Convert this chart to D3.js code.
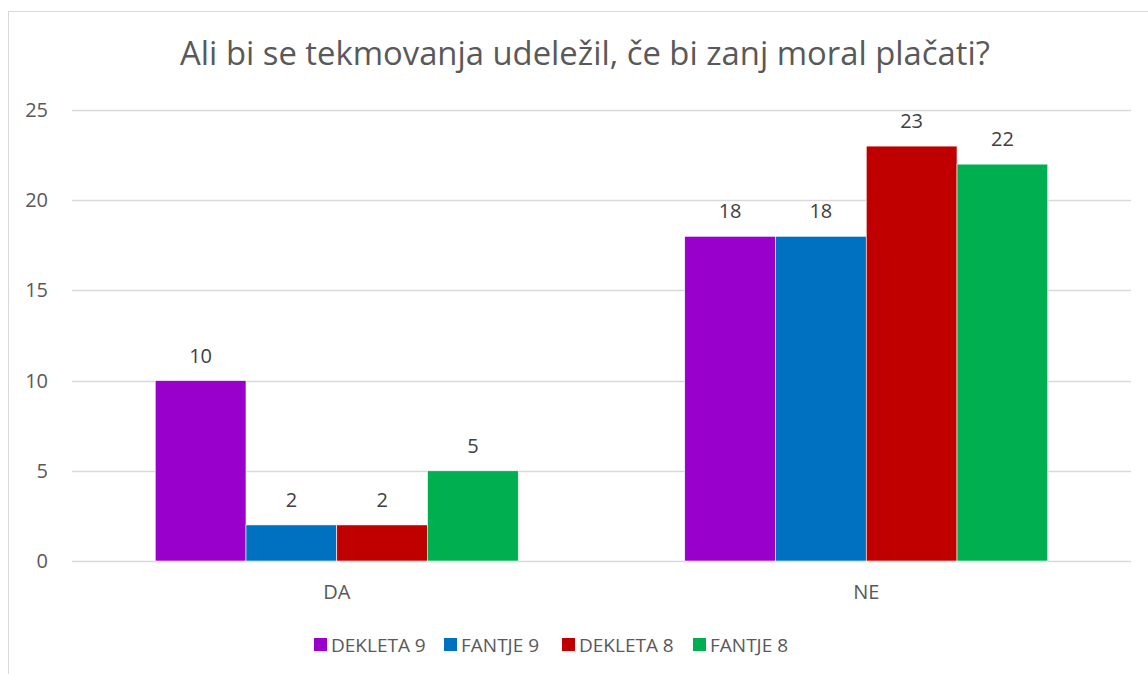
<!DOCTYPE html>
<html>
<head>
<meta charset="utf-8">
<script src="https://cdn.jsdelivr.net/npm/d3@7"></script>
<style>
  body { margin: 0; background: #fff; }
  svg text { font-family: "Open Sans", "Liberation Sans", sans-serif; }
</style>
</head>
<body>
<svg id="chart" width="1148" height="674"></svg>
<script>
// data
const categories = ["DA", "NE"];
const seriesNames = ["DEKLETA 9", "FANTJE 9", "DEKLETA 8", "FANTJE 8"];
const seriesColors = ["#9900CC", "#0070C0", "#C00000", "#00B050"];
const dekleta9 = [10, 18];
const fantje9 = [2, 18];
const dekleta8 = [2, 23];
const fantje8 = [5, 22];
const yTicks = [0, 5, 10, 15, 20, 25];
const title = "Ali bi se tekmovanja udeležil, če bi zanj moral plačati?";

const values = [dekleta9, fantje9, dekleta8, fantje8];

const svg = d3.select("#chart");
const W = 1148, H = 674;

// chart border (left + top visible)
svg.append("line").attr("x1", 8.5).attr("x2", 8.5).attr("y1", 11).attr("y2", H)
  .attr("stroke", "#d9d9d9");
svg.append("line").attr("x1", 8).attr("x2", W).attr("y1", 11.5).attr("y2", 11.5)
  .attr("stroke", "#d9d9d9");

const plot = { left: 72, right: 1131, top: 110, bottom: 561 };

const x0 = d3.scaleBand().domain(categories).range([plot.left, plot.right]).paddingInner(0).paddingOuter(0);
const x1 = d3.scaleBand().domain(seriesNames)
  .range([0, x0.bandwidth()]).paddingOuter(0.917).paddingInner(0);
const y = d3.scaleLinear().domain([0, 25]).range([plot.bottom, plot.top]);

// gridlines
svg.append("g").selectAll("line").data(yTicks).join("line")
  .attr("x1", plot.left).attr("x2", plot.right)
  .attr("y1", d => Math.round(y(d)) + 0.5).attr("y2", d => Math.round(y(d)) + 0.5)
  .attr("stroke", "#d9d9d9").attr("stroke-width", 1.3);

// y tick labels
svg.append("g").selectAll("text").data(yTicks).join("text")
  .attr("x", 48).attr("y", d => y(d) + 7)
  .attr("text-anchor", "end").attr("font-size", 20).attr("fill", "#595959")
  .text(d => d);

// bars
const groups = svg.append("g").selectAll("g").data(categories).join("g")
  .attr("transform", c => `translate(${x0(c)},0)`);

groups.each(function(c, ci) {
  const g = d3.select(this);
  seriesNames.forEach((s, si) => {
    const v = values[si][ci];
    g.append("rect")
      .attr("x", x1(s)).attr("width", x1.bandwidth())
      .attr("y", y(v)).attr("height", y(0) - y(v))
      .attr("fill", seriesColors[si])
      .attr("stroke", "#fff").attr("stroke-width", 0.6);
    g.append("text")
      .attr("x", x1(s) + x1.bandwidth() / 2).attr("y", y(v) - 18)
      .attr("text-anchor", "middle").attr("font-size", 20).attr("fill", "#404040")
      .text(v);
  });
});

// category labels
svg.append("g").selectAll("text").data(categories).join("text")
  .attr("x", c => x0(c) + x0.bandwidth() / 2).attr("y", 599)
  .attr("text-anchor", "middle").attr("font-size", 20).attr("fill", "#595959")
  .text(c => c);

// title
const t = svg.append("text").attr("x", 585).attr("y", 65)
  .attr("text-anchor", "middle").attr("font-size", 28).attr("fill", "#595959")
  .text(title);
const tw = t.node().getComputedTextLength();
t.attr("font-size", 28 * 810 / tw);

// legend
const legendX = [314, 444, 562, 693];
const legend = svg.append("g").selectAll("g").data(seriesNames).join("g")
  .attr("transform", (d, i) => `translate(${legendX[i]},638)`);
legend.append("rect").attr("width", 13).attr("height", 13)
  .attr("fill", (d, i) => seriesColors[i]);
legend.append("text").attr("x", 17).attr("y", 14)
  .attr("font-size", 19).attr("fill", "#595959")
  .text(d => d);
</script>
</body>
</html>
